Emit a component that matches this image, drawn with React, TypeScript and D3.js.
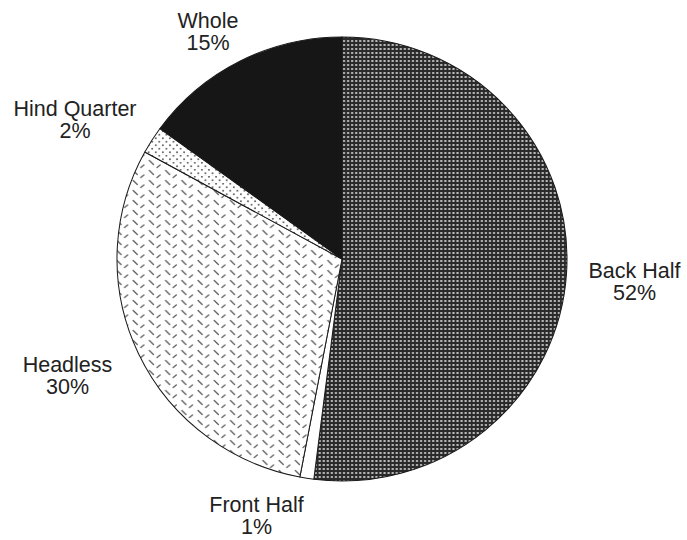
import React from "react";
import * as d3 from "d3";

const categories = ["Back Half", "Front Half", "Headless", "Hind Quarter", "Whole"];
const values = [52, 1, 30, 2, 15];
const percentLabels = ["52%", "1%", "30%", "2%", "15%"];

// layout (not data): label anchor offsets from pie centre [dx, dy of first baseline]
const labelOffsets: [number, number][] = [
  [292.5, 19],
  [-85.5, 253],
  [-274.5, 113],
  [-267, -143],
  [-134, -231],
];

const W = 687;
const H = 540;
const cx = 342;
const cy = 259;
const rx = 225;
const ry = 222;

const fills = ["url(#pBack)", "#ffffff", "url(#pHeadless)", "url(#pHind)", "#161616"];

export default function App() {
  const pie = d3
    .pie<number>()
    .sort(null)
    .value((d) => d)
    .startAngle(0)
    .endAngle(2 * Math.PI);
  const arcs = pie(values);
  const arc = d3.arc<d3.PieArcDatum<number>>().innerRadius(0).outerRadius(ry);
  const font = "'Liberation Sans', Arial, Helvetica, sans-serif";

  return (
    <svg
      width={W}
      height={H}
      viewBox={`0 0 ${W} ${H}`}
      style={{ position: "absolute", left: 0, top: 0, background: "#fff" }}
    >
      <defs>
        <pattern id="pBack" width={4} height={4} patternUnits="userSpaceOnUse">
          <rect width={4} height={4} fill="#2a2a2a" />
          <rect x={1} y={1} width={2} height={2} fill="#bdbdbd" />
        </pattern>
        <pattern id="pHeadless" width={16} height={10} patternUnits="userSpaceOnUse">
          <rect width={16} height={10} fill="#fff" />
          <g stroke="#666" strokeWidth={1.4} strokeLinecap="round">
            <line x1={2} y1={1.5} x2={6} y2={5.5} />
            <line x1={9.5} y1={8.5} x2={12.5} y2={6} />
          </g>
        </pattern>
        <pattern id="pHind" width={7} height={7} patternUnits="userSpaceOnUse">
          <rect width={7} height={7} fill="#fff" />
          <circle cx={1.75} cy={1.75} r={1} fill="#6a6a6a" />
          <circle cx={5.25} cy={5.25} r={1} fill="#6a6a6a" />
        </pattern>
      </defs>
      <g transform={`translate(${cx},${cy}) scale(${rx / ry},1)`}>
        {arcs.map((a, i) => (
          <path
            key={categories[i]}
            d={arc(a) || ""}
            fill={fills[i]}
            stroke="#1a1a1a"
            strokeWidth={1}
            strokeLinejoin="round"
          />
        ))}
      </g>
      <g fontFamily={font} fontSize={21.5} fill="#222" textAnchor="middle">
        {categories.map((c, i) => (
          <text key={c} x={cx + labelOffsets[i][0]} y={cy + labelOffsets[i][1]}>
            <tspan x={cx + labelOffsets[i][0]}>{c}</tspan>
            <tspan x={cx + labelOffsets[i][0]} dy={22}>
              {percentLabels[i]}
            </tspan>
          </text>
        ))}
      </g>
    </svg>
  );
}
